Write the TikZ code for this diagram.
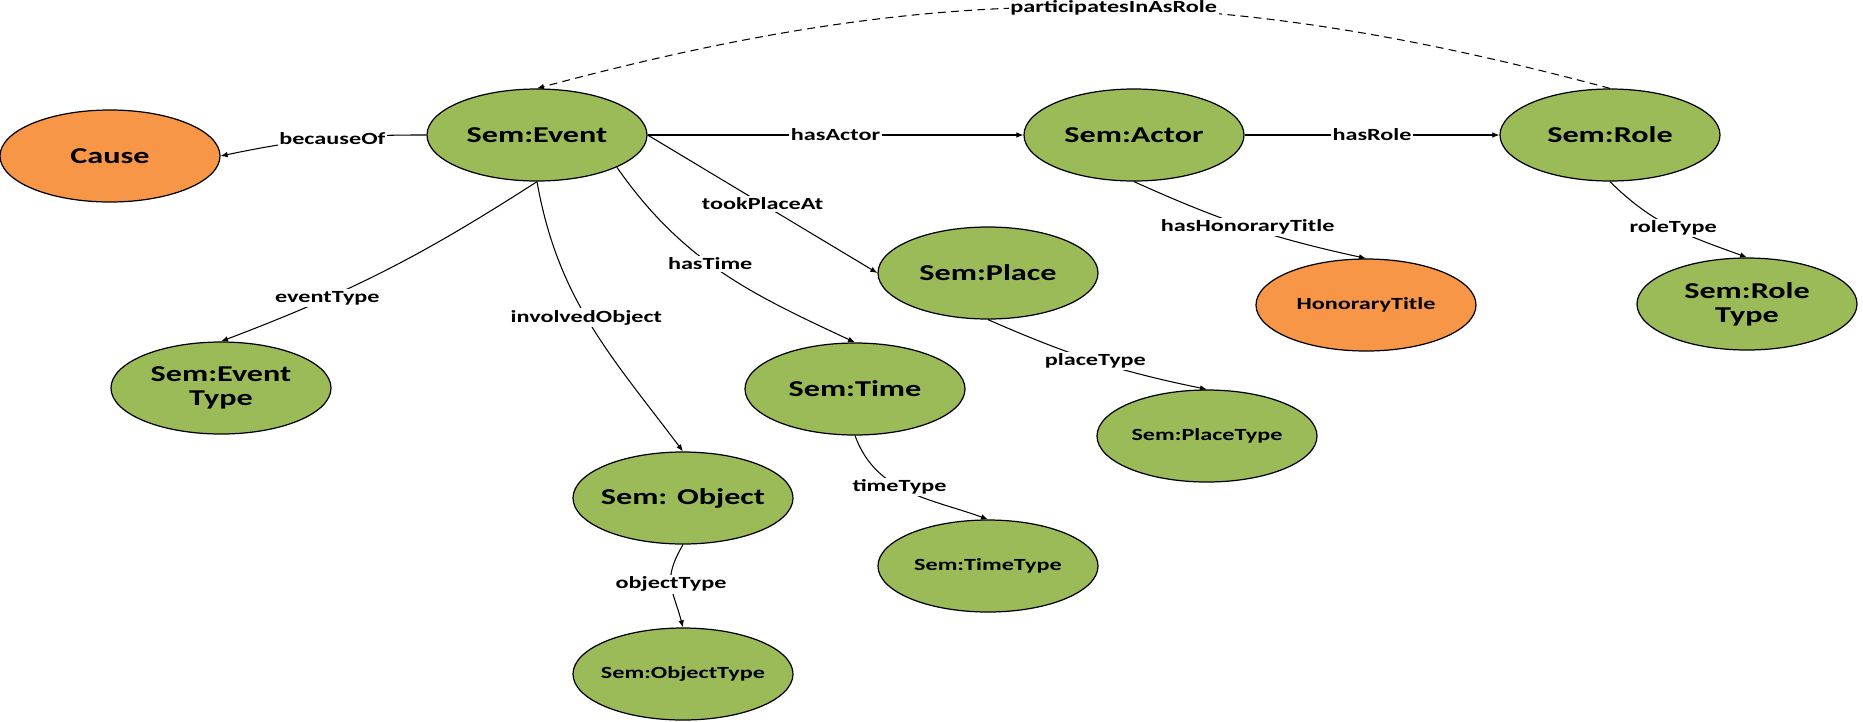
\documentclass[tikz,border=0pt]{standalone}
\usepackage{fontspec}
\usetikzlibrary{shapes.geometric, arrows.meta}

\newfontfamily\semfont{Carlito}[FakeStretch=1.42]
\definecolor{semgreen}{RGB}{155,187,89}
\definecolor{semorange}{RGB}{247,150,70}

\begin{document}
\begin{tikzpicture}[
    concept/.style={ellipse, draw=black, line width=0.7pt, fill=semgreen,
      minimum width=4.4cm, minimum height=1.84cm, inner xsep=-10pt, inner ysep=0pt,
      align=center, font=\semfont\bfseries\fontsize{12.9}{13.6}\selectfont},
    extra/.style={concept, fill=semorange},
    smalltext/.style={font=\semfont\bfseries\fontsize{9.7}{11}\selectfont},
    rel/.style={-{Latex[length=4pt,width=3.2pt]}, line width=0.6pt},
    lbl/.style={fill=white, inner sep=1pt, font=\semfont\bfseries\fontsize{9.7}{11}\selectfont}
  ]

  \useasboundingbox (0,0) rectangle (37.26,-14.42);

  %%%%%%%%%%%%%%%%%%%%%%%%%%%%%%
  % Top row: event, actor, role %
  %%%%%%%%%%%%%%%%%%%%%%%%%%%%%%
  \node[extra]   (cause) at (2.20,-3.12)  {Cause};
  \node[concept] (event) at (10.74,-2.70) {Sem:Event};
  \node[concept] (actor) at (22.68,-2.70) {Sem:Actor};
  \node[concept] (role)  at (32.20,-2.70) {Sem:Role};

  %%%%%%%%%%%%%%%%%%%%%%%%%%%%%%
  % Second and lower rows      %
  %%%%%%%%%%%%%%%%%%%%%%%%%%%%%%
  \node[concept] (place)     at (19.76,-5.46)  {Sem:Place};
  \node[extra, smalltext] (honor) at (27.32,-6.10) {HonoraryTitle};
  \node[concept] (roletype)  at (34.94,-6.08)  {Sem:Role\\Type};
  \node[concept] (eventtype) at (4.42,-7.76)   {Sem:Event\\Type};
  \node[concept] (time)      at (17.10,-7.78)  {Sem:Time};
  \node[concept, smalltext] (placetype) at (24.14,-8.72) {Sem:PlaceType};
  \node[concept] (object)    at (13.66,-9.96)  {Sem: Object};
  \node[concept, smalltext] (timetype)   at (19.76,-11.32) {Sem:TimeType};
  \node[concept, smalltext] (objecttype) at (13.66,-13.48) {Sem:ObjectType};

  %%%%%%%%%%%%%%%%%%%%%%%%%%%%%%
  % Relations                  %
  %%%%%%%%%%%%%%%%%%%%%%%%%%%%%%
  \draw[rel] (event.west) to[bend right=6] node[lbl, pos=0.45] {becauseOf} (cause.east);
  \draw[rel] (event) -- node[lbl] {hasActor} (actor);
  \draw[rel] (actor) -- node[lbl] {hasRole} (role);
  \draw[rel, dash pattern=on 4.5pt off 3pt] (role.north) to[out=165, in=15]
        node[lbl, pos=0.46] {participatesInAsRole} (event.north);

  % Event to its parts
  \draw[rel] (event.east) -- node[lbl] {tookPlaceAt} (place.west);
  \draw[rel] (event.-22) to[out=-55, in=155] node[lbl, pos=0.45] {hasTime} (time.north);
  \draw[rel] (event.south) to[out=-80, in=127] node[lbl, pos=0.47] {involvedObject} (object.north);
  \draw[rel] (event.south) to[bend left=6] node[lbl, pos=0.69] {eventType} (eventtype.north);

  % Types
  \draw[rel] (actor.south) to[bend right=6] node[lbl] {hasHonoraryTitle} (honor.north);
  \draw[rel] (role.south) to[out=-45, in=160] node[lbl] {roleType} (roletype.north);
  \draw[rel] (place.south) to[bend right=6] node[lbl] {placeType} (placetype.north);
  \draw[rel] (time.south) to[out=-70, in=160] node[lbl, pos=0.44] {timeType} (timetype.north);
  \draw[rel] (object.south) to[out=-120, in=105, looseness=1.3] node[lbl] {objectType} (objecttype.north);

\end{tikzpicture}
\end{document}
